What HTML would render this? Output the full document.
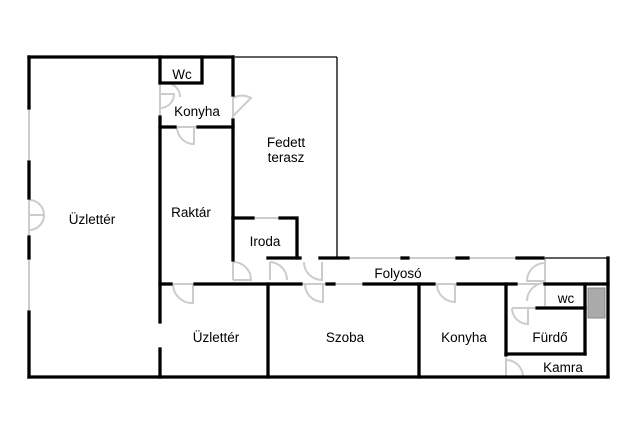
<!DOCTYPE html>
<html><head><style>
html,body{margin:0;padding:0;background:#fff;width:640px;height:426px;overflow:hidden}
svg{display:block}
text{font-family:"Liberation Sans",Arial,sans-serif;font-size:13.5px;fill:#000;text-anchor:middle}
</style></head><body>
<svg width="640" height="426" viewBox="0 0 640 426">
<g stroke="#ccc" stroke-width="2" fill="none">
<line x1="29" y1="110" x2="29" y2="160"/>
<line x1="29" y1="200" x2="29" y2="235"/>
<line x1="29" y1="260" x2="29" y2="310"/>
<line x1="160" y1="83" x2="160" y2="115"/>
<line x1="233" y1="97" x2="233" y2="118"/>
<line x1="177" y1="127" x2="196" y2="127"/>
<line x1="255" y1="218" x2="278" y2="218"/>
<line x1="233" y1="262" x2="233" y2="280"/>
<line x1="270" y1="262" x2="270" y2="280"/>
<line x1="173" y1="284" x2="193" y2="284"/>
<line x1="303" y1="284" x2="325" y2="284"/>
<line x1="336" y1="284" x2="362" y2="284"/>
<line x1="436" y1="284" x2="456" y2="284"/>
<line x1="350" y1="258" x2="400" y2="258"/>
<line x1="410" y1="258" x2="455" y2="258"/>
<line x1="470" y1="258" x2="515" y2="258"/>
<line x1="545" y1="258" x2="545" y2="306"/>
<line x1="518" y1="284" x2="540" y2="284"/>
<line x1="512" y1="308" x2="535" y2="308"/>
<line x1="506" y1="358" x2="506" y2="377"/>
<line x1="452" y1="377" x2="478" y2="377"/>
<path d="M160 108 A14 14 0 0 0 174 94 L160 94"/>
<path d="M166 83 A14 14 0 0 1 180 97"/>
<path d="M233 98 A18 18 0 0 1 251 98 L233 116"/>
<path d="M177 127 A17 17 0 0 0 194 144 L194 127"/>
<path d="M233 262 A18 18 0 0 1 251 280 L233 280"/>
<path d="M270 262 A18 18 0 0 1 287 280"/>
<path d="M304 262 A18 18 0 0 0 322 280 L322 262"/>
<path d="M173 284 A19 19 0 0 0 193 303 L193 284"/>
<path d="M305 284 A18 18 0 0 0 323 302 L323 284"/>
<path d="M437 284 A18 18 0 0 0 455 302 L455 284"/>
<path d="M545 263 A18 18 0 0 0 527 281 L545 281"/>
<path d="M545 283 A18 18 0 0 0 527 301"/>
<path d="M512 308 A16 16 0 0 0 528 324 L528 308"/>
<path d="M29 200 A15 15 0 0 1 44 215 L29 215 M29 230 A15 15 0 0 0 44 215"/>
<path d="M506 360 A17 17 0 0 1 523 377"/>
</g>
<g stroke="#000" stroke-width="1.3" fill="none">
<line x1="235" y1="57" x2="337" y2="57"/>
<line x1="337" y1="57" x2="337" y2="258"/>
<line x1="545" y1="258" x2="608" y2="258"/>
</g>
<g stroke="#000" stroke-width="3.3" fill="none" stroke-linecap="square">
<line x1="29" y1="57" x2="233" y2="57"/>
<line x1="29" y1="57" x2="29" y2="108"/>
<line x1="29" y1="162" x2="29" y2="198"/>
<line x1="29" y1="237" x2="29" y2="258"/>
<line x1="29" y1="312" x2="29" y2="377"/>
<line x1="29" y1="377" x2="608" y2="377"/>
<line x1="160" y1="57" x2="160" y2="82"/>
<line x1="160" y1="117" x2="160" y2="322"/>
<line x1="160" y1="349" x2="160" y2="377"/>
<polyline points="160,83 202,83 202,57"/>
<line x1="160" y1="127" x2="175" y2="127"/>
<line x1="198" y1="127" x2="233" y2="127"/>
<line x1="233" y1="57" x2="233" y2="95"/>
<line x1="233" y1="120" x2="233" y2="218"/>
<line x1="233" y1="218" x2="253" y2="218"/>
<polyline points="280,218 297,218 297,258"/>
<line x1="233" y1="220" x2="233" y2="260"/>
<line x1="268" y1="258" x2="300" y2="258"/>
<line x1="320" y1="258" x2="348" y2="258"/>
<line x1="402" y1="258" x2="408" y2="258"/>
<line x1="457" y1="258" x2="468" y2="258"/>
<line x1="517" y1="258" x2="543" y2="258"/>
<line x1="160" y1="284" x2="171" y2="284"/>
<line x1="195" y1="284" x2="301" y2="284"/>
<line x1="327" y1="284" x2="334" y2="284"/>
<line x1="364" y1="284" x2="434" y2="284"/>
<line x1="458" y1="284" x2="516" y2="284"/>
<line x1="545" y1="284" x2="608" y2="284"/>
<line x1="268" y1="284" x2="268" y2="377"/>
<line x1="419" y1="284" x2="419" y2="377"/>
<line x1="506" y1="284" x2="506" y2="355"/>
<line x1="506" y1="354" x2="585" y2="354"/>
<line x1="585" y1="284" x2="585" y2="354"/>
<line x1="537" y1="308" x2="585" y2="308"/>
<line x1="608" y1="258" x2="608" y2="377"/>
</g>
<rect x="588" y="288" width="17" height="30" fill="#aaa" stroke="#888" stroke-width="1"/>
<text x="92" y="224">Üzlettér</text>
<text x="182" y="79" font-size="12">Wc</text>
<text x="197" y="116">Konyha</text>
<text x="286" y="147">Fedett</text>
<text x="286" y="162">terasz</text>
<text x="191" y="217">Raktár</text>
<text x="265" y="246">Iroda</text>
<text x="398" y="278">Folyosó</text>
<text x="216" y="342">Üzlettér</text>
<text x="345" y="342">Szoba</text>
<text x="464" y="342">Konyha</text>
<text x="566" y="303" font-size="11">wc</text>
<text x="550" y="342">Fürdő</text>
<text x="563" y="372">Kamra</text>
</svg>
</body></html>
